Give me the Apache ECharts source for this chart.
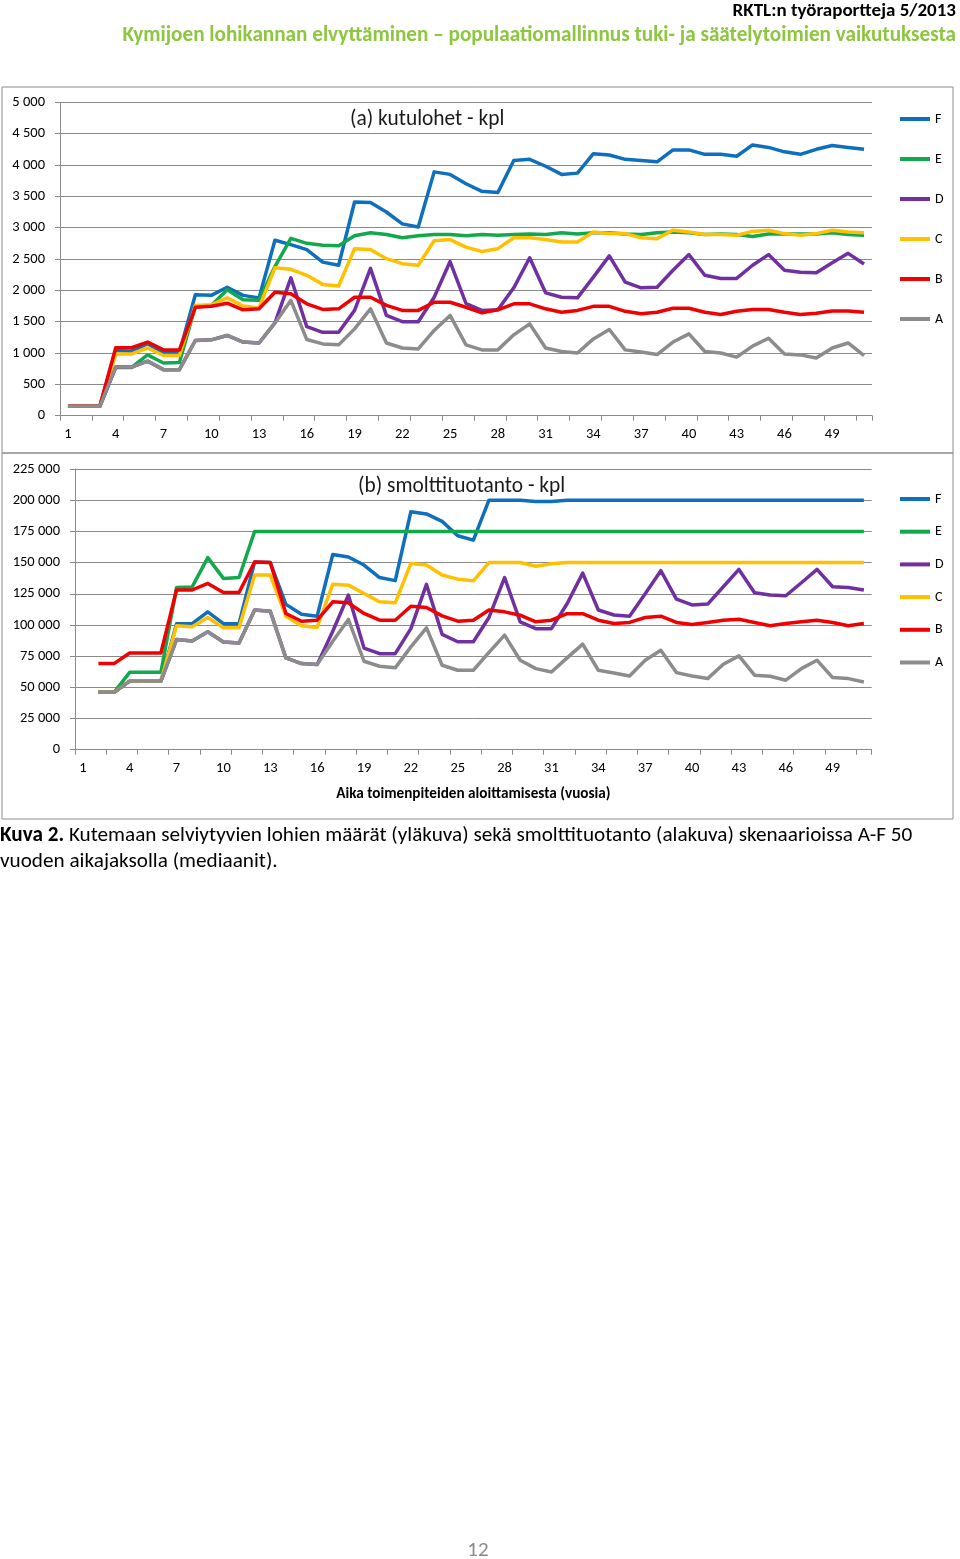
<!DOCTYPE html>
<html>
<head>
<meta charset="utf-8">
<script src="https://cdn.jsdelivr.net/npm/echarts@6/dist/echarts.min.js"></script>
<style>
html,body{margin:0;padding:0;background:#fff;}
#c{width:960px;height:1559px;}
</style>
</head>
<body>
<div id="c"></div>
<script>
// ---------- DATA ----------
const years = Array.from({length: 51}, (_, i) => String(i + 1));
const scenarioNames = ['F', 'E', 'D', 'C', 'B', 'A'];

// (a) kutulohet - kpl
const spawnF = [150,150,150,1040,1030,1150,1010,1010,1930,1920,2050,1920,1880,2800,2730,2650,2450,2400,3410,3400,3250,3060,3010,3890,3850,3700,3580,3560,4070,4090,3980,3850,3870,4180,4160,4090,4070,4050,4240,4240,4170,4170,4140,4320,4280,4210,4170,4250,4310,4280,4250];
const spawnE = [150,150,150,770,770,970,840,850,1740,1760,2010,1850,1840,2380,2830,2750,2720,2710,2870,2920,2890,2840,2870,2890,2890,2870,2890,2880,2890,2900,2890,2920,2900,2920,2920,2900,2890,2920,2930,2920,2890,2900,2890,2860,2900,2900,2900,2900,2920,2890,2880];
const spawnD = [150,150,150,775,775,870,735,735,1200,1210,1280,1175,1160,1480,2200,1420,1330,1330,1680,2350,1600,1500,1500,1890,2460,1790,1680,1690,2040,2520,1960,1890,1880,2210,2550,2130,2040,2050,2320,2570,2240,2190,2190,2400,2570,2320,2290,2280,2440,2590,2420];
const spawnC = [150,150,150,985,985,1080,960,960,1760,1770,1880,1750,1720,2360,2335,2240,2095,2070,2665,2650,2505,2425,2400,2790,2810,2690,2620,2665,2840,2840,2810,2770,2770,2930,2905,2905,2840,2825,2960,2930,2890,2890,2880,2940,2960,2905,2880,2905,2960,2930,2920];
const spawnB = [150,150,150,1085,1085,1175,1050,1050,1730,1745,1795,1690,1705,1970,1945,1785,1695,1705,1890,1890,1760,1680,1680,1810,1810,1730,1640,1690,1785,1785,1705,1650,1680,1745,1745,1665,1625,1650,1715,1715,1650,1615,1665,1695,1695,1650,1615,1635,1670,1670,1650];
const spawnA = [150,150,150,775,775,870,735,735,1200,1210,1280,1175,1160,1480,1840,1215,1145,1130,1385,1705,1160,1080,1065,1360,1600,1130,1050,1050,1290,1465,1080,1025,1000,1225,1375,1050,1015,975,1175,1305,1025,1000,935,1110,1235,985,970,920,1080,1160,960];

// (b) smolttituotanto - kpl
const smoltF = [null,46000,46000,55000,55000,55000,101000,101000,110500,101000,101000,150500,150000,116500,108500,107000,156500,154500,148000,138000,135500,190800,189000,183000,171500,168000,200000,200000,200000,199000,199000,200000,200000,200000,200000,200000,200000,200000,200000,200000,200000,200000,200000,200000,200000,200000,200000,200000,200000,200000,200000];
const smoltE = [null,46000,46000,62000,62000,62000,130000,130500,154000,137300,138000,175000,175000,175000,175000,175000,175000,175000,175000,175000,175000,175000,175000,175000,175000,175000,175000,175000,175000,175000,175000,175000,175000,175000,175000,175000,175000,175000,175000,175000,175000,175000,175000,175000,175000,175000,175000,175000,175000,175000,175000];
const smoltD = [null,46000,46000,55000,55000,55000,88300,87200,94500,86400,85600,112000,111000,73600,69000,68200,95000,124000,81500,77000,77000,97000,132500,92500,86500,86500,106000,138000,102500,97000,97000,117000,141500,112000,108000,107000,125000,143500,120700,116000,116700,130600,144500,125800,124000,123400,133800,144500,130600,130000,128000];
const smoltC = [null,46000,46000,55000,55000,55000,99300,98500,106000,97700,97700,140000,140000,107000,99300,98000,132700,131900,125200,118500,117700,149300,148000,140000,136700,135400,150000,150000,150000,147000,149000,150000,150000,150000,150000,150000,150000,150000,150000,150000,150000,150000,150000,150000,150000,150000,150000,150000,150000,150000,150000];
const smoltB = [null,69000,69000,77500,77500,77500,128000,128000,133300,126000,126000,150500,150000,109200,103000,103800,118500,117700,109200,103800,103800,115000,114000,107300,103000,103800,112000,110500,107800,102500,103800,109000,109000,103800,101100,102000,106000,107000,102000,100300,102000,103800,104600,102000,99300,101100,102500,103800,102000,99300,101100];
const smoltA = [null,46000,46000,55000,55000,55000,88300,87200,94500,86400,85600,112000,111000,73600,69000,68200,87000,104400,70900,66900,65600,82400,97700,67700,63700,63700,78000,91800,71700,65000,62300,73600,84600,63700,61500,59100,71700,79700,61800,59100,57000,68500,75200,59700,58900,55700,65000,71700,57800,57000,54300];

const titleA = '(a) kutulohet - kpl';
const titleB = '(b) smolttituotanto - kpl';
const xAxisName = 'Aika toimenpiteiden aloittamisesta (vuosia)';
const headerRight = 'RKTL:n työraportteja 5/2013';
const headerGreen = 'Kymijoen lohikannan elvyttäminen \u2013 populaatiomallinnus tuki- ja säätelytoimien vaikutuksesta';
const captionBold = 'Kuva 2.';
const captionLine1 = ' Kutemaan selviytyvien lohien määrät (yläkuva) sekä smolttituotanto (alakuva) skenaarioissa A-F 50';
const captionLine2 = 'vuoden aikajaksolla (mediaanit).';
const pageNumber = '12';

// ---------- STYLE ----------
const colors = {F:'#0F6FBF', E:'#12A84E', D:'#7030A0', C:'#FFC000', B:'#F00000', A:'#8C8C8C'};
const FONT = 'Carlito, Lato, "Open Sans", sans-serif';
const gridColor = '#8a8a8a';

function fmt(v){ return String(v).replace(/\B(?=(\d{3})+(?!\d))/g, ' '); }

const spawn = {F:spawnF, E:spawnE, D:spawnD, C:spawnC, B:spawnB, A:spawnA};
const smolt = {F:smoltF, E:smoltE, D:smoltD, C:smoltC, B:smoltB, A:smoltA};

function makeSeries(dataMap, idx){
  return scenarioNames.map(n => ({
    name: n, type: 'line', xAxisIndex: idx, yAxisIndex: idx,
    data: dataMap[n], showSymbol: false, symbol: 'none',
    lineStyle: {color: colors[n], width: 3.5, join: 'round'},
    itemStyle: {color: colors[n]},
    connectNulls: false, animation: false
  }));
}

function xAxis(idx, extra){
  return Object.assign({
    type: 'category', gridIndex: idx, data: years, boundaryGap: true,
    axisLine: {lineStyle: {color: gridColor, width: 1}},
    axisTick: {show: true, interval: 1, length: 5, lineStyle: {color: gridColor}},
    axisLabel: {interval: 2, color: '#000', fontSize: 14.5, fontFamily: FONT, margin: 11}
  }, extra || {});
}
function yAxis(idx, max, interval){
  return {
    type: 'value', gridIndex: idx, min: 0, max: max, interval: interval,
    axisLine: {show: true, lineStyle: {color: gridColor, width: 1}},
    axisTick: {show: true, length: 5, lineStyle: {color: gridColor}},
    splitLine: {show: true, lineStyle: {color: gridColor, width: 1}},
    axisLabel: {color: '#000', fontSize: 14.5, fontFamily: FONT, margin: 15, formatter: fmt}
  };
}
function legend(top, gap){
  return {
    orient: 'vertical', left: 895, top: top, itemWidth: 30, itemHeight: 4,
    itemGap: gap, icon: 'rect', data: scenarioNames,
    textStyle: {color: '#000', fontSize: 14, fontFamily: FONT, lineHeight: 14},
    selectedMode: false
  };
}

const chart = echarts.init(document.getElementById('c'), null, {renderer: 'canvas'});
chart.setOption({
  animation: false,
  backgroundColor: '#fff',
  title: [
    {text: titleA, left: 345, top: 104, textStyle: {fontFamily: FONT, fontSize: 21.4, fontWeight: 'normal', color: '#1a1a1a'}},
    {text: titleB, left: 353, top: 471, textStyle: {fontFamily: FONT, fontSize: 21.4, fontWeight: 'normal', color: '#1a1a1a'}}
  ],
  legend: [legend(107, 26), legend(487, 18.7)],
  grid: [
    {left: 60, top: 102.3, width: 812, height: 313.4},
    {left: 75, top: 469, width: 796.7, height: 280.7}
  ],
  xAxis: [
    xAxis(0),
    xAxis(1, {name: xAxisName, nameLocation: 'middle', nameGap: 37,
      nameTextStyle: {fontFamily: FONT, fontSize: 15.2, fontWeight: 'bold', color: '#000'}})
  ],
  yAxis: [yAxis(0, 5000, 500), yAxis(1, 225000, 25000)],
  series: makeSeries(spawn, 0).concat(makeSeries(smolt, 1)),
  graphic: [
    {type: 'rect', shape: {x: 2, y: 87, width: 951, height: 366}, style: {fill: 'none', stroke: '#8c8c8c', lineWidth: 1}, silent: true},
    {type: 'rect', shape: {x: 2, y: 453, width: 951, height: 366}, style: {fill: 'none', stroke: '#8c8c8c', lineWidth: 1}, silent: true},
    {type: 'text', x: 956, y: 11, style: {text: headerRight, textAlign: 'right', textVerticalAlign: 'middle', font: 'bold 19px ' + FONT, fill: '#000'}},
    {type: 'text', x: 956, y: 36, style: {text: headerGreen, textAlign: 'right', textVerticalAlign: 'middle', font: 'bold 21.2px ' + FONT, fill: '#8DC63F'}},
    {type: 'text', x: 0, y: 836, style: {
      text: '{b|' + captionBold + '}{n|' + captionLine1 + '}', textVerticalAlign: 'middle',
      rich: {b: {font: 'bold 21.2px ' + FONT, fill: '#000'}, n: {font: '21.2px ' + FONT, fill: '#000'}}
    }},
    {type: 'text', x: 0, y: 862, style: {text: captionLine2, textVerticalAlign: 'middle', font: '21.2px ' + FONT, fill: '#000'}},
    {type: 'text', x: 478, y: 1551, style: {text: pageNumber, textAlign: 'center', textVerticalAlign: 'middle', font: '21px ' + FONT, fill: '#8a8a8a'}}
  ]
});
</script>
</body>
</html>
